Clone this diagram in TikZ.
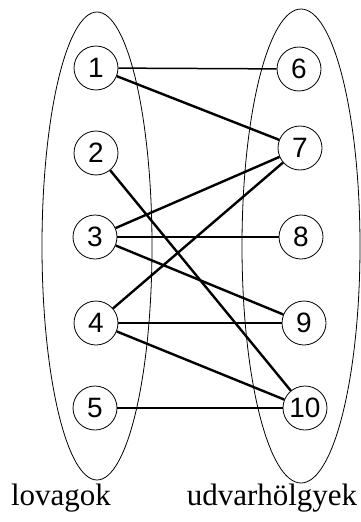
\documentclass[tikz,border=0pt]{standalone}
\usepackage{fontspec}
\setmainfont{Liberation Serif}
\setsansfont{Liberation Sans}
\usetikzlibrary{calc}

\begin{document}
\begin{tikzpicture}[x=1pt, y=-1pt,
  vertex/.style={draw, circle, line width=0.8pt, minimum size=44pt, inner sep=0pt, font=\sffamily\fontsize{28}{28}\selectfont},
  flat/.style={line width=1.5pt},
  slant/.style={line width=2.4pt}]
  \useasboundingbox (0,0) rectangle (361,522);
  % Sets
  \draw[line width=0.8pt] (97,246) ellipse (55 and 234);
  \draw[line width=0.8pt] (301,246) ellipse (59 and 237);
  % Knights
  \node[vertex] (k1) at (96,68) {1};
  \node[vertex] (k2) at (96,153) {2};
  \node[vertex] (k3) at (95,237) {3};
  \node[vertex] (k4) at (96,323) {4};
  \node[vertex] (k5) at (95,408) {5};
  % Ladies
  \node[vertex] (l6) at (299,69) {6};
  \node[vertex] (l7) at (300,148) {7};
  \node[vertex] (l8) at (301,237) {8};
  \node[vertex] (l9) at (304,323) {9};
  \node[vertex] (l10) at (305,408) {10};
  % Edges
  \draw[flat] (k1) -- (l6);
  \draw[slant] (k1) -- (l7);
  \draw[slant] (k2) -- (l10);
  \draw[slant] (k3) -- (l7);
  \draw[flat] (k3) -- (l8);
  \draw[slant] (k3) -- (l9);
  \draw[slant] (k4) -- (l7);
  \draw[flat] (k4) -- (l9);
  \draw[slant] (k4) -- (l10);
  \draw[flat] (k5) -- (l10);
  % Labels
  \node[font=\fontsize{31}{31}\selectfont] (lovagok) at (61,498) {lovagok};
  \node[font=\fontsize{31}{31}\selectfont] (hölgyek) at (272,498) {udvarhölgyek};
\end{tikzpicture}
\end{document}
